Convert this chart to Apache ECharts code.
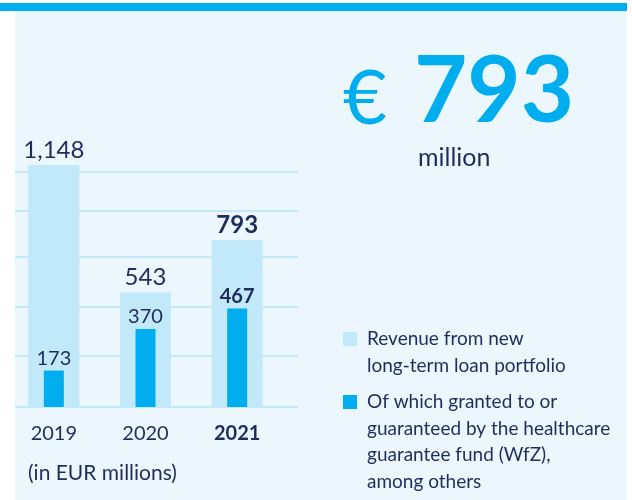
<!DOCTYPE html>
<html>
<head>
<meta charset="utf-8">
<script src="https://cdn.jsdelivr.net/npm/echarts@6/dist/echarts.min.js"></script>
<style>
html,body{margin:0;padding:0;background:#fff;}
#c{width:632px;height:500px;}
</style>
</head>
<body>
<div id="c"></div>
<script>
// ---- data ----
var years = ['2019', '2020', '2021'];
var revenueTotal = [1148, 543, 793];
var revenueWfZ = [173, 370, 467];
var highlightYear = '2021';
var gridValues = [0, 242, 474, 711, 929, 1118];
var unitNote = '(in EUR millions)';
var legendTotal = ['Revenue from new', 'long-term loan portfolio'];
var legendWfZ = ['Of which granted to or', 'guaranteed by the healthcare', 'guarantee fund (WfZ),', 'among others'];

var NAVY = '#1f2c5c', LIGHT = '#c1e9f9', DARK = '#00aeef', BG = '#ebf7fd';
var FONT = 'Lato';

function fmt(v){ return v.toLocaleString('en-US'); }
function bold(i){ return years[i] === highlightYear ? 'bold' : 'normal'; }

var chart = echarts.init(document.getElementById('c'));
var latest = revenueTotal[years.indexOf(highlightYear)];

var option = {
  backgroundColor: '#ffffff',
  animation: false,
  grid: [
    {left: 8, width: 275, top: 112, height: 295},
    {left: 15, width: 283, top: 112, height: 295}
  ],
  xAxis: [
    {type: 'category', gridIndex: 0, data: years,
     axisLine: {show: false}, axisTick: {show: false},
     axisLabel: {interval: 0, margin: 17, fontFamily: FONT, fontSize: 20, color: NAVY,
       formatter: function(v){ return v === highlightYear ? '{b|' + v + '}' : v; },
       rich: {b: {fontFamily: FONT, fontSize: 20, fontWeight: 'bold', color: NAVY}}}},
    {type: 'category', gridIndex: 0, data: years, show: false},
    {type: 'category', gridIndex: 1, data: ['x'], show: false}
  ],
  yAxis: [
    {type: 'value', gridIndex: 0, min: 0, max: 1400, show: false, splitLine: {show: false}},
    {type: 'value', gridIndex: 1, min: 0, max: 1400, show: false, splitLine: {show: false}}
  ],
  series: [
    {type: 'line', xAxisIndex: 2, yAxisIndex: 1, data: [], z: 0, silent: true,
     markLine: {silent: true, z: 0, symbol: 'none', label: {show: false},
       lineStyle: {color: LIGHT, width: 2, type: 'solid'},
       data: gridValues.map(function(v){ return {yAxis: v}; })}},
    {name: 'total', type: 'bar', xAxisIndex: 0, yAxisIndex: 0, z: 3, barWidth: 51,
     itemStyle: {color: LIGHT},
     data: revenueTotal.map(function(v, i){
       return {value: v, label: {fontWeight: bold(i)}};
     }),
     label: {show: true, position: 'top', distance: 3, fontFamily: FONT, fontSize: 24, color: NAVY,
       formatter: function(p){ return fmt(p.value); }}},
    {name: 'wfz', type: 'bar', xAxisIndex: 1, yAxisIndex: 0, z: 4, barWidth: 20,
     itemStyle: {color: DARK},
     data: revenueWfZ.map(function(v, i){
       return {value: v, label: {fontWeight: bold(i)}};
     }),
     label: {show: true, position: 'top', distance: 2, fontFamily: FONT, fontSize: 20, color: NAVY,
       formatter: function(p){ return fmt(p.value); }}}
  ],
  graphic: [
    {type: 'rect', z: -100, shape: {x: 15, y: 11, width: 611, height: 489}, style: {fill: BG}, silent: true},
    {type: 'rect', z: -99, shape: {x: 0, y: 3, width: 627, height: 8}, style: {fill: DARK}, silent: true},
    {type: 'text', left: 28, top: 463, style: {text: unitNote, font: '21px ' + FONT, fill: NAVY}},
    {type: 'text', left: 343, top: 61, style: {text: '€', font: '76px ' + FONT, fill: DARK}},
    {type: 'text', left: 414, top: 46, style: {text: fmt(latest), font: 'bold 92px ' + FONT, fill: DARK}},
    {type: 'text', left: 418, top: 145, style: {text: 'million', font: '25px ' + FONT, fill: NAVY}},
    {type: 'rect', shape: {x: 343, y: 332, width: 14, height: 14}, style: {fill: LIGHT}},
    {type: 'text', left: 367, top: 326, style: {text: legendTotal.join('\n'), font: '19px ' + FONT, lineHeight: 26.5, fill: NAVY}},
    {type: 'rect', shape: {x: 343, y: 395, width: 14, height: 14}, style: {fill: DARK}},
    {type: 'text', left: 367, top: 389, style: {text: legendWfZ.join('\n'), font: '19px ' + FONT, lineHeight: 26.5, fill: NAVY}}
  ]
};
chart.setOption(option);
</script>
</body>
</html>
